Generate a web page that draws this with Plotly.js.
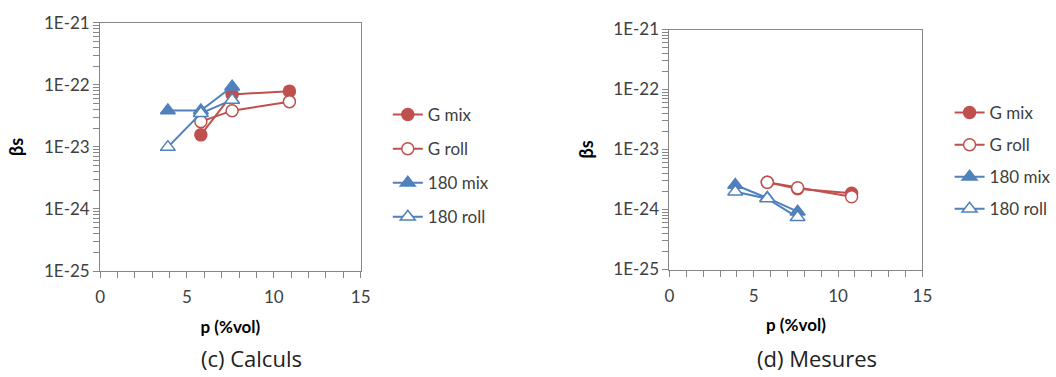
<!DOCTYPE html>
<html>
<head>
<meta charset="utf-8">
<script src="https://cdn.plot.ly/plotly-3.0.1.min.js"></script>
<style>html,body{margin:0;padding:0;background:#fff}#chart{width:1056px;height:377px}</style>
</head>
<body>
<div id="chart"></div>
<script>
// ---- data ----
const seriesNames = ["G mix", "G roll", "180 mix", "180 roll"];
// (c) Calculs
const calcGx = [5.8, 7.6, 10.9];
const calcGmix = [1.56e-23, 7.0e-23, 7.9e-23];
const calcGroll = [2.55e-23, 3.83e-23, 5.35e-23];
const calc180x = [3.9, 5.8, 7.6];
const calc180mix = [3.85e-23, 3.85e-23, 9.3e-23];
const calc180roll = [9.9e-24, 3.48e-23, 5.7e-23];
// (d) Mesures
const mesGx = [5.8, 7.6, 10.8];
const mesGmix = [2.84e-24, 2.22e-24, 1.86e-24];
const mesGroll = [2.84e-24, 2.31e-24, 1.63e-24];
const mes180x = [3.9, 5.8, 7.6];
const mes180mix = [2.56e-24, 1.56e-24, 9.2e-25];
const mes180roll = [1.98e-24, 1.52e-24, 7.4e-25];
// axis ticks
const xTickVals = [0, 5, 10, 15];
const decadeLabels = ["1E-25", "1E-24", "1E-23", "1E-22", "1E-21"];
const subtitles = ["(c) Calculs", "(d) Mesures"];
const xTitle = "p (%vol)";
const yTitle = "βs";

// ---- style ----
const RED = "#C0504D", BLUE = "#4F81BD";
const FONT = "Lato, 'Liberation Sans', sans-serif";
const W = 1056, H = 377;

const yTickVals = [], yTickText = [];
for (let d = 0; d < decadeLabels.length; d++) {
  const base = Math.pow(10, -25 + d);
  for (let m = 1; m <= 9; m++) {
    if (d === decadeLabels.length - 1 && m > 1) break;
    yTickVals.push(m * base);
    yTickText.push(m === 1 ? decadeLabels[d] : "");
  }
}

function mk(name, x, y, color, symbol, filled, xa, ya, leg) {
  return {
    type: "scatter", mode: "lines+markers", name: name, x: x, y: y,
    xaxis: xa, yaxis: ya, legend: leg, legendgroup: leg + name,
    line: {color: color, width: 2},
    marker: {symbol: symbol, size: symbol === "triangle-up" ? 13 : 12,
             color: filled ? color : "#ffffff",
             line: {color: color, width: 1.5}}
  };
}

const traces = [
  mk(seriesNames[0], calcGx, calcGmix, RED, "circle", true, "x", "y", "legend"),
  mk(seriesNames[1], calcGx, calcGroll, RED, "circle", false, "x", "y", "legend"),
  mk(seriesNames[2], calc180x, calc180mix, BLUE, "triangle-up", true, "x", "y", "legend"),
  mk(seriesNames[3], calc180x, calc180roll, BLUE, "triangle-up", false, "x", "y", "legend"),
  mk(seriesNames[0], mesGx, mesGmix, RED, "circle", true, "x2", "y2", "legend2"),
  mk(seriesNames[1], mesGx, mesGroll, RED, "circle", false, "x2", "y2", "legend2"),
  mk(seriesNames[2], mes180x, mes180mix, BLUE, "triangle-up", true, "x2", "y2", "legend2"),
  mk(seriesNames[3], mes180x, mes180roll, BLUE, "triangle-up", false, "x2", "y2", "legend2")
];

function xAxis(x0, x1, anchor) {
  return {
    domain: [x0 / W, x1 / W], anchor: anchor, range: [0, 15],
    tickvals: xTickVals, ticks: "outside", ticklen: 6, tickcolor: "#868686",
    ticklabelstandoff: 5,
    minor: {dtick: 1, ticks: "outside", ticklen: 6, tickcolor: "#868686", showgrid: false},
    showline: true, linecolor: "#868686", linewidth: 1, mirror: true,
    showgrid: false, zeroline: false,
    tickfont: {family: FONT, size: 17, color: "#404040"},
    title: {text: "<b>" + xTitle + "</b>", font: {family: FONT, size: 17, color: "#000"}, standoff: 14}
  };
}
function yAxis(y0, y1, anchor) {
  return {
    domain: [1 - y1 / H, 1 - y0 / H], anchor: anchor, type: "log", range: [-25, -21],
    tickvals: yTickVals, ticktext: yTickText, ticks: "outside", ticklen: 6, tickcolor: "#868686",
    showline: true, linecolor: "#868686", linewidth: 1, mirror: true,
    showgrid: false, zeroline: false,
    tickfont: {family: FONT, size: 17, color: "#404040"},
    title: {text: "<b>" + yTitle + "</b>", font: {family: FONT, size: 18, color: "#000"}, standoff: 15}
  };
}

const legendCommon = {
  font: {family: FONT, size: 17, color: "#404040"},
  bgcolor: "rgba(0,0,0,0)", traceorder: "grouped",
  yanchor: "top", xanchor: "left", itemwidth: 30
};

const layout = {
  width: W, height: H, margin: {l: 0, r: 0, t: 0, b: 0},
  paper_bgcolor: "#fff", plot_bgcolor: "#fff", showlegend: true,
  xaxis: xAxis(100.7, 362.7, "y"),
  yaxis: yAxis(22.7, 271, "x"),
  xaxis2: xAxis(673.3, 927.7, "y2"),
  yaxis2: yAxis(29.5, 269.5, "x2"),
  legend: Object.assign({}, legendCommon, {x: 390 / W, y: 1 - 97 / H, tracegroupgap: 9}),
  legend2: Object.assign({}, legendCommon, {x: 955 / W, y: 1 - 95 / H, tracegroupgap: 7}),
  annotations: [
    {text: subtitles[0], x: 253 / W, y: 1 - 358 / H, xref: "paper", yref: "paper",
     xanchor: "center", yanchor: "middle",
     showarrow: false, font: {family: "'Open Sans', sans-serif", size: 22, color: "#222"}},
    {text: subtitles[1], x: 822 / W, y: 1 - 358 / H, xref: "paper", yref: "paper",
     xanchor: "center", yanchor: "middle",
     showarrow: false, font: {family: "'Open Sans', sans-serif", size: 22, color: "#222"}}
  ]
};

Plotly.newPlot("chart", traces, layout, {displayModeBar: false, staticPlot: true});
</script>
</body>
</html>
